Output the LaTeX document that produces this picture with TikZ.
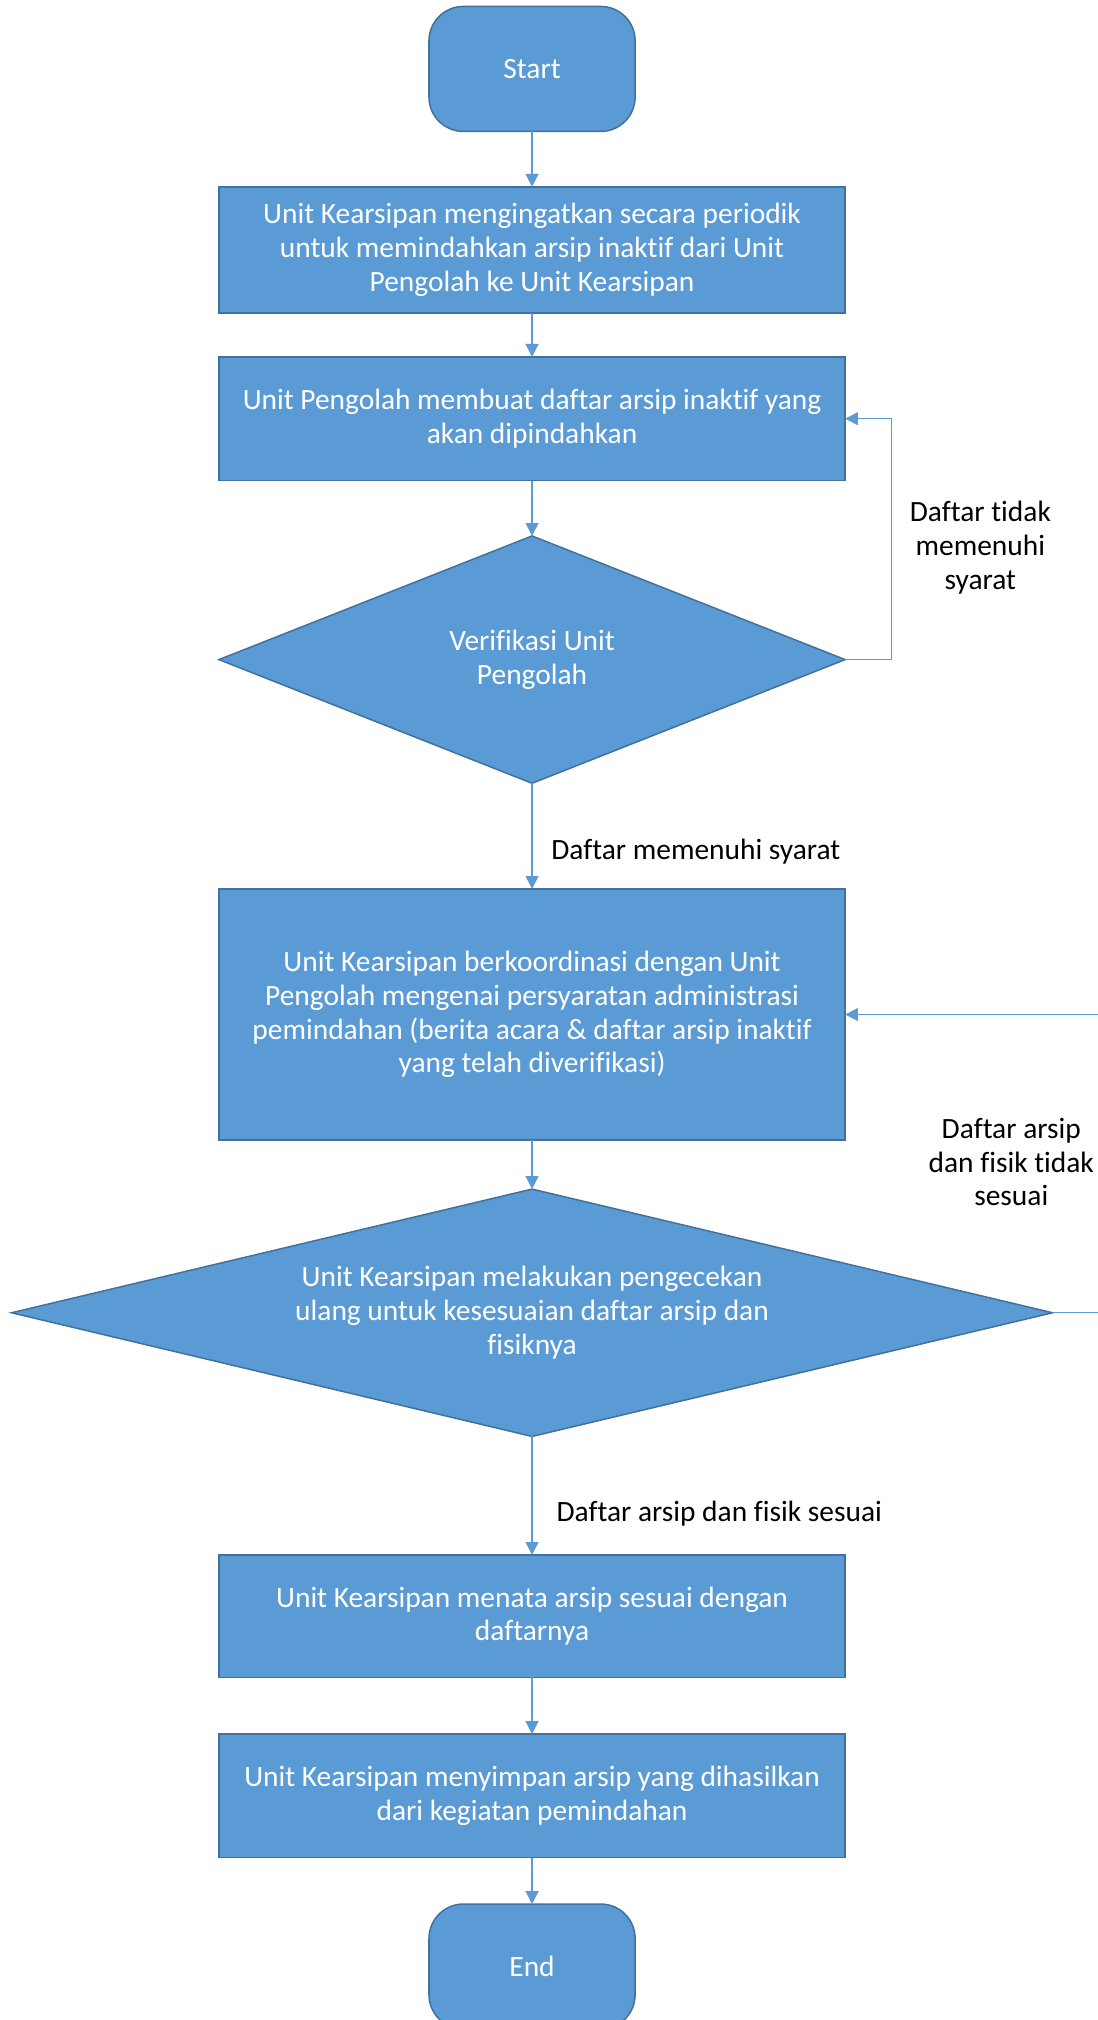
\documentclass[tikz,border=0pt]{standalone}
\usepackage{fontspec}
\setmainfont[Ligatures=NoCommon]{Carlito}
\usetikzlibrary{arrows.meta,positioning,shapes.geometric}
\definecolor{boxblue}{HTML}{5B9BD5}
\definecolor{edgeblue}{HTML}{41719C}

\begin{document}
\begin{tikzpicture}[
  every node/.style={font=\fontsize{19.5}{22.4}\selectfont, align=center, outer sep=0pt},
  proc/.style={rectangle, draw=edgeblue, fill=boxblue, line width=1pt, text=white, minimum width=14.58cm, inner sep=0pt},
  term/.style={rectangle, rounded corners=0.8cm, draw=edgeblue, fill=boxblue, line width=1pt, text=white, minimum width=4.8cm, minimum height=2.91cm},
  decide/.style={diamond, draw=edgeblue, fill=boxblue, line width=1pt, text=white, inner sep=0pt},
  flow/.style={draw=boxblue, line width=0.9pt, -{Triangle[length=0.3cm, width=0.3cm]}},
  lbl/.style={text=black, inner sep=0pt}
]
\useasboundingbox (0,0) rectangle (25.56,-47.04);
\node[term] (start) at (12.39,-1.605) {Start};
\node[proc, minimum height=2.94cm, below=1.29cm of start] (remind) {Unit Kearsipan mengingatkan secara periodik\\untuk memindahkan arsip inaktif dari Unit\\Pengolah ke Unit Kearsipan};
\node[proc, minimum height=2.88cm, below=1.02cm of remind] (makelist) {Unit Pengolah membuat daftar arsip inaktif yang\\akan dipindahkan};
\node[decide, aspect=2.53, minimum width=14.58cm, minimum height=5.76cm, below=1.29cm of makelist] (verify) {Verifikasi Unit\\Pengolah};
\node[proc, minimum height=5.85cm, below=2.46cm of verify] (coord) {Unit Kearsipan berkoordinasi dengan Unit\\Pengolah mengenai persyaratan administrasi\\pemindahan (berita acara \& daftar arsip inaktif\\yang telah diverifikasi)};
\node[decide, aspect=4.21, minimum width=24.24cm, minimum height=5.76cm, below=1.14cm of coord] (recheck) {Unit Kearsipan melakukan pengecekan\\ulang untuk kesesuaian daftar arsip dan\\fisiknya};
\node[proc, minimum height=2.85cm, below=2.76cm of recheck] (arrange) {Unit Kearsipan menata arsip sesuai dengan\\daftarnya};
\node[proc, minimum height=2.88cm, below=1.32cm of arrange] (store) {Unit Kearsipan menyimpan arsip yang dihasilkan\\dari kegiatan pemindahan};
\node[term, below=1.08cm of store] (end) {End};

\coordinate (rightedge) at (26.0,0);

\draw[flow] (start) -- (remind);
\draw[flow] (remind) -- (makelist);
\draw[flow] (makelist) -- (verify);
\draw[flow] (verify) -- (coord);
\draw[flow] (coord) -- (recheck);
\draw[flow] (recheck) -- (arrange);
\draw[flow] (arrange) -- (store);
\draw[flow] (store) -- (end);
\draw[flow] (verify.east) -- ++(1.08,0) |- (makelist.east);
\draw[flow] (recheck.east) -- (recheck.east -| rightedge) |- (coord.east);

\node[lbl] (notok) at (22.83,-12.75) {Daftar tidak\\memenuhi\\syarat};
\node[lbl, anchor=west] (ok) at (12.84,-19.83) {Daftar memenuhi syarat};
\node[lbl] (nomatch) at (23.55,-27.06) {Daftar arsip\\dan fisik tidak\\sesuai};
\node[lbl, anchor=west] (match) at (12.96,-35.25) {Daftar arsip dan fisik sesuai};
\end{tikzpicture}
\end{document}
